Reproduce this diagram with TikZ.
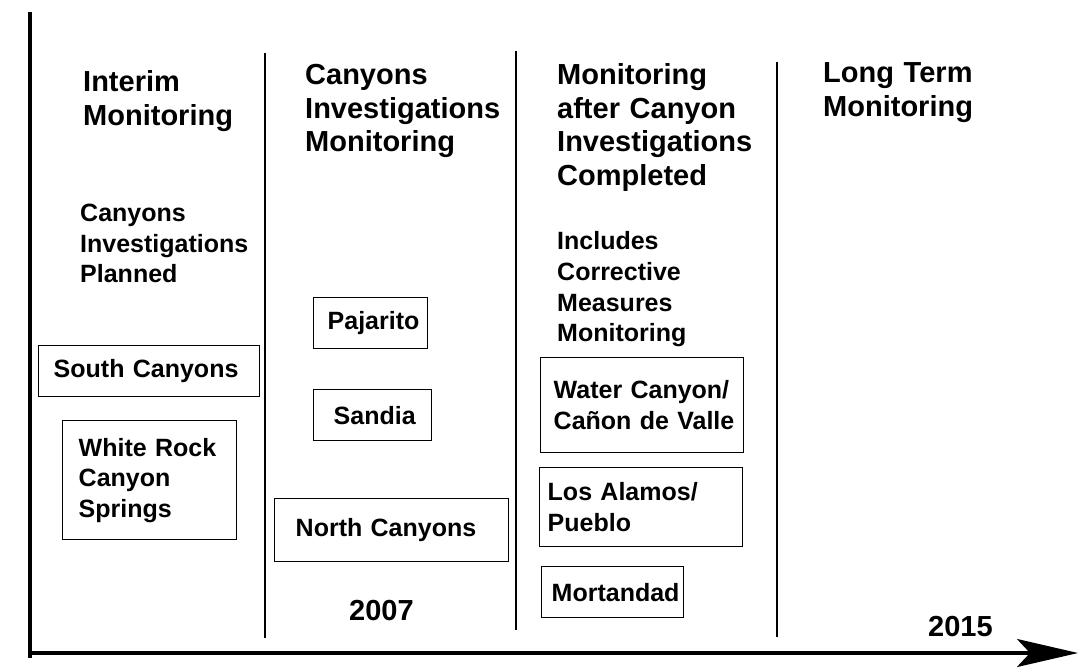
\documentclass[tikz,border=0pt]{standalone}
\usepackage{fontspec}
\setmainfont{Liberation Sans}
\usetikzlibrary{arrows.meta}

\tikzset{
    heading/.style={font=\fontsize{29}{33.5}\selectfont\bfseries, align=left, text width=230pt, anchor=base west, inner sep=0pt},
    note/.style={font=\fontsize{25}{30.5}\selectfont\bfseries, align=left, text width=200pt, anchor=base west, inner sep=0pt},
    site/.style={draw, line width=1.4pt, font=\fontsize{25}{30.5}\selectfont\bfseries, align=left, anchor=north west, inner ysep=0pt},
    divider/.style={line width=2pt},
    axis/.style={line width=3.2pt}
}

\begin{document}
\begin{tikzpicture}[x=1pt, y=-1pt]

    \path[use as bounding box, fill=white] (0, 0) rectangle (1091, 668);

    % time axis
    \coordinate (ytop) at (30, 12);
    \coordinate (ybottom) at (30, 658);
    \coordinate (origin) at (30, 653);
    \coordinate (tip) at (1078, 653);
    \draw[axis] (ytop) -- (ybottom);
    \draw[axis, -{Stealth[length=61pt, width=28pt, inset=13pt]}] (origin) -- (tip);

    \foreach \x/\a/\b in {265/53/638, 516/51/630, 777/62/637}
        \draw[divider] (\x, \a) -- (\x, \b);

    % phases
    \node[heading] (interim) at (83, 92) {Interim\\Monitoring};
    \node[heading] (canyonsmon) at (305, 85) {Canyons\\Investigations\\Monitoring};
    \node[heading] (aftermon) at (557, 85) {Monitoring\\after Canyon\\Investigations\\Completed};
    \node[heading] (longterm) at (823, 83) {Long Term\\Monitoring};

    \node[note] (planned) at (80, 222) {Canyons\\Investigations\\Planned};
    \node[note] (corrective) at (557, 250) {Includes\\Corrective\\Measures\\Monitoring};

    % canyons
    \node[site, inner xsep=15pt, text width=191pt, minimum height=51pt] (south) at (38, 345) {South~Canyons};
    \node[site, inner xsep=16pt, text width=142pt, minimum height=119pt] (whiterock) at (62, 420) {White~Rock\\Canyon\\Springs};
    \node[site, inner xsep=14pt, text width=86pt, minimum height=51pt] (pajarito) at (313, 297) {Pajarito};
    \node[site, inner xsep=20pt, text width=78pt, minimum height=51pt] (sandia) at (313, 389) {Sandia};
    \node[site, inner xsep=21pt, text width=192pt, minimum height=63pt] (north) at (274, 498) {North~Canyons};
    \node[site, inner xsep=13pt, text width=177pt, minimum height=95pt] (water) at (540, 357) {Water~Canyon/\\Cañon~de~Valle};
    \node[site, inner xsep=8pt, text width=187pt, minimum height=79pt] (losalamos) at (539, 467) {Los~Alamos/\\Pueblo};
    \node[site, inner xsep=10pt, text width=122pt, minimum height=51pt] (mortandad) at (541, 566) {Mortandad};

    % years
    \node[heading] (y2007) at (349, 620) {2007};
    \node[heading] (y2015) at (928, 636) {2015};

\end{tikzpicture}
\end{document}
